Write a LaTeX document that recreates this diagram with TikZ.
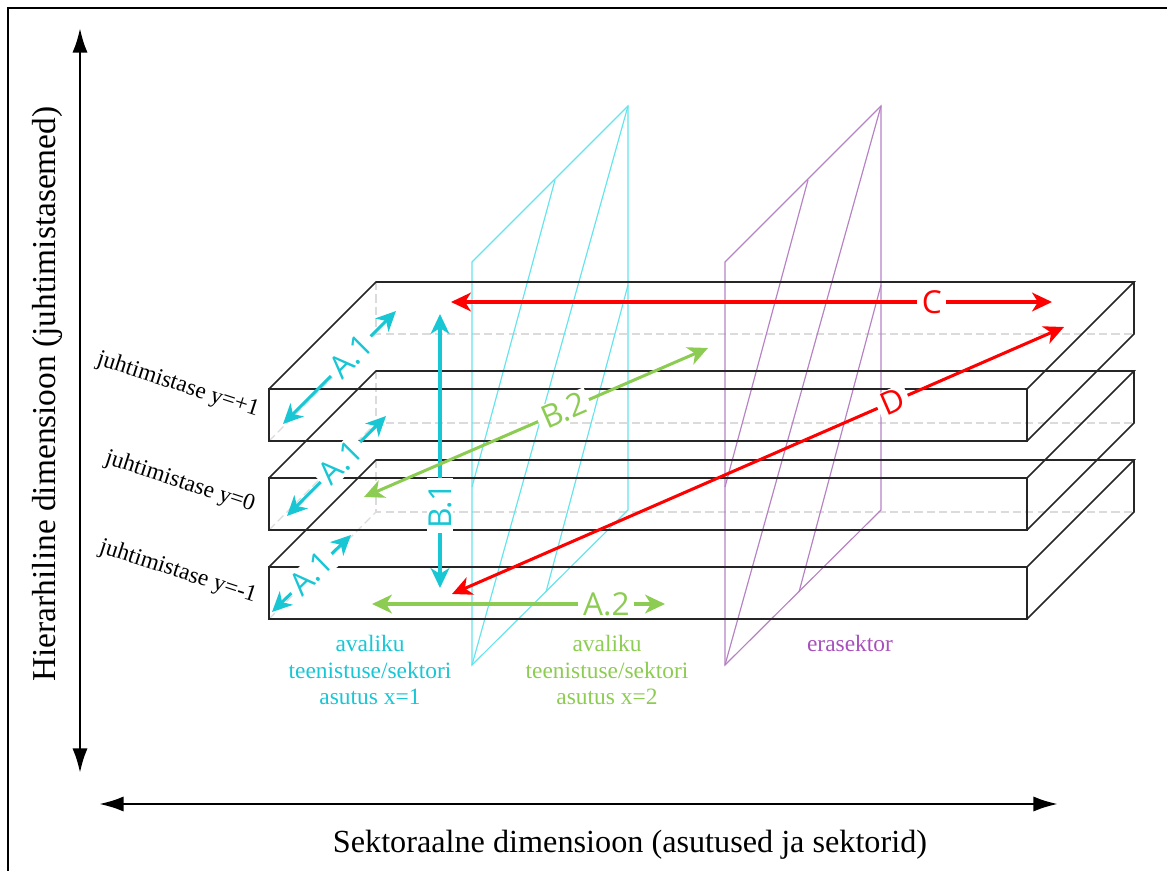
\documentclass[tikz,border=0pt]{standalone}
\usepackage{fontspec}
\setmainfont{Liberation Serif}
\newfontfamily\lblfont{Open Sans}
\usepackage{tikz}
\usetikzlibrary{arrows.meta,positioning}
\definecolor{arcyan}{RGB}{24,198,212}
\definecolor{plcyan}{RGB}{100,228,236}
\definecolor{argreen}{RGB}{141,204,82}
\definecolor{arred}{RGB}{255,0,0}
\definecolor{plpurple}{RGB}{182,130,196}
\definecolor{txpurple}{RGB}{168,80,188}

\begin{document}
\begin{tikzpicture}[x=0.03cm, y=-0.03cm,
    slab/.style={draw=black!85, line width=1.3pt},
    hid/.style={draw=black!14, line width=1pt, dash pattern=on 7pt off 3.5pt},
    cplane/.style={draw=plcyan, line width=1pt},
    pplane/.style={draw=plpurple, line width=1pt},
    axis/.style={line width=2.2pt, {Latex[length=21pt,width=13pt]}-{Latex[length=21pt,width=13pt]}},
    ar/.style={line width=2.6pt, {Stealth[length=17pt,width=16pt,inset=5pt]}-{Stealth[length=17pt,width=16pt,inset=5pt]}},
    lbl/.style={fill=white, inner xsep=4pt, inner ysep=1.5pt, sloped, font=\lblfont\fontsize{27}{27}\selectfont},
    lvl/.style={rotate=-18, font=\fontsize{20}{20}\selectfont},
    sect/.style={align=center, font=\fontsize{20}{23}\selectfont}]
    \useasboundingbox (0,0) rectangle (1167,871);
    \draw[line width=1.2pt] (8,871) -- (8,8) -- (1167,8);

    \foreach \y in {389,478,567} {
        \draw[hid] (376,{\y-107}) -- (376,{\y-55}) -- (1134,{\y-55});
        \draw[hid] (269,{\y+52}) -- (376,{\y-55});
    }

    \draw[cplane] (472,665) -- (472,262) -- (628,106) -- (628,510) -- cycle;
    \draw[cplane] (555,180) -- (472,487);
    \draw[cplane] (628,106) -- (472,665);
    \draw[cplane] (628,285) -- (546,592);
    \draw[pplane] (725,665) -- (725,262) -- (881,106) -- (881,510) -- cycle;
    \draw[pplane] (808,180) -- (725,487);
    \draw[pplane] (881,106) -- (725,665);
    \draw[pplane] (881,285) -- (799,592);

    \foreach \y in {389,478,567} {
        \draw[slab] (269,\y) rectangle (1027,{\y+52});
        \draw[slab] (269,\y) -- (376,{\y-107}) -- (1134,{\y-107}) -- (1027,\y);
        \draw[slab] (1134,{\y-107}) -- (1134,{\y-55}) -- (1027,{\y+52});
    }

    \coordinate (ybot) at (80,773);
    \coordinate (ytop) at (80,28);
    \coordinate (xleft) at (99,804);
    \coordinate (xright) at (1058,804);
    \draw[axis] (ybot) -- (ytop);
    \draw[axis] (xleft) -- (xright);
    \node[rotate=90, font=\fontsize{28.5}{28.5}\selectfont] (ylab) at (47,394) {Hierarhiline dimensioon (juhtimistasemed)};
    \node[font=\fontsize{27.5}{27.5}\selectfont] (xlab) at (630,845) {Sektoraalne dimensioon (asutused ja sektorid)};

    \node[lvl] (lvltop) at (178,385) {juhtimistase y=+1};
    \node[lvl] (lvlmid) at (180,482) {juhtimistase y=0};
    \node[lvl] (lvlbot) at (178,572) {juhtimistase y=-1};

    \node[sect, text=arcyan] (secone) at (370,670) {avaliku\\teenistuse/sektori\\asutus x=1};
    \node[sect, text=argreen] (sectwo) at (607,670) {avaliku\\teenistuse/sektori\\asutus x=2};
    \node[sect, text=txpurple] (secpriv) at (850,643) {erasektor};

    \coordinate (atlo) at (283,424);
    \coordinate (athi) at (396,311);
    \coordinate (amlo) at (287,516);
    \coordinate (amhi) at (386,416);
    \coordinate (ablo) at (272,612);
    \coordinate (abhi) at (351,535);
    \coordinate (bonelo) at (440,588);
    \coordinate (bonehi) at (440,314);
    \coordinate (btwolo) at (364,497);
    \coordinate (btwohi) at (708,348);
    \coordinate (atwolo) at (372,604);
    \coordinate (atwohi) at (665,604);
    \coordinate (clo) at (451,302);
    \coordinate (chi) at (1052,302);
    \coordinate (dlo) at (452,594);
    \coordinate (dhi) at (1064,327);

    \draw[ar, arcyan] (atlo) -- node[lbl, pos=0.6] (atlbl) {A.1} (athi);
    \draw[ar, arcyan] (amlo) -- node[lbl, pos=0.54] (amlbl) {A.1} (amhi);
    \draw[ar, arcyan] (ablo) -- node[lbl, pos=0.5] (ablbl) {A.1} (abhi);
    \draw[ar, arcyan] (bonelo) -- node[lbl, pos=0.3] (bonelbl) {B.1} (bonehi);
    \draw[ar, argreen] (btwolo) -- node[lbl, pos=0.58] (btwolbl) {B.2} (btwohi);
    \draw[ar, argreen] (atwolo) -- node[lbl, pos=0.8] (atwolbl) {A.2} (atwohi);
    \draw[ar, arred] (clo) -- node[lbl, pos=0.8] (clbl) {C} (chi);
    \draw[ar, arred] (dlo) -- node[lbl, pos=0.72] (dlbl) {D} (dhi);
\end{tikzpicture}
\end{document}
